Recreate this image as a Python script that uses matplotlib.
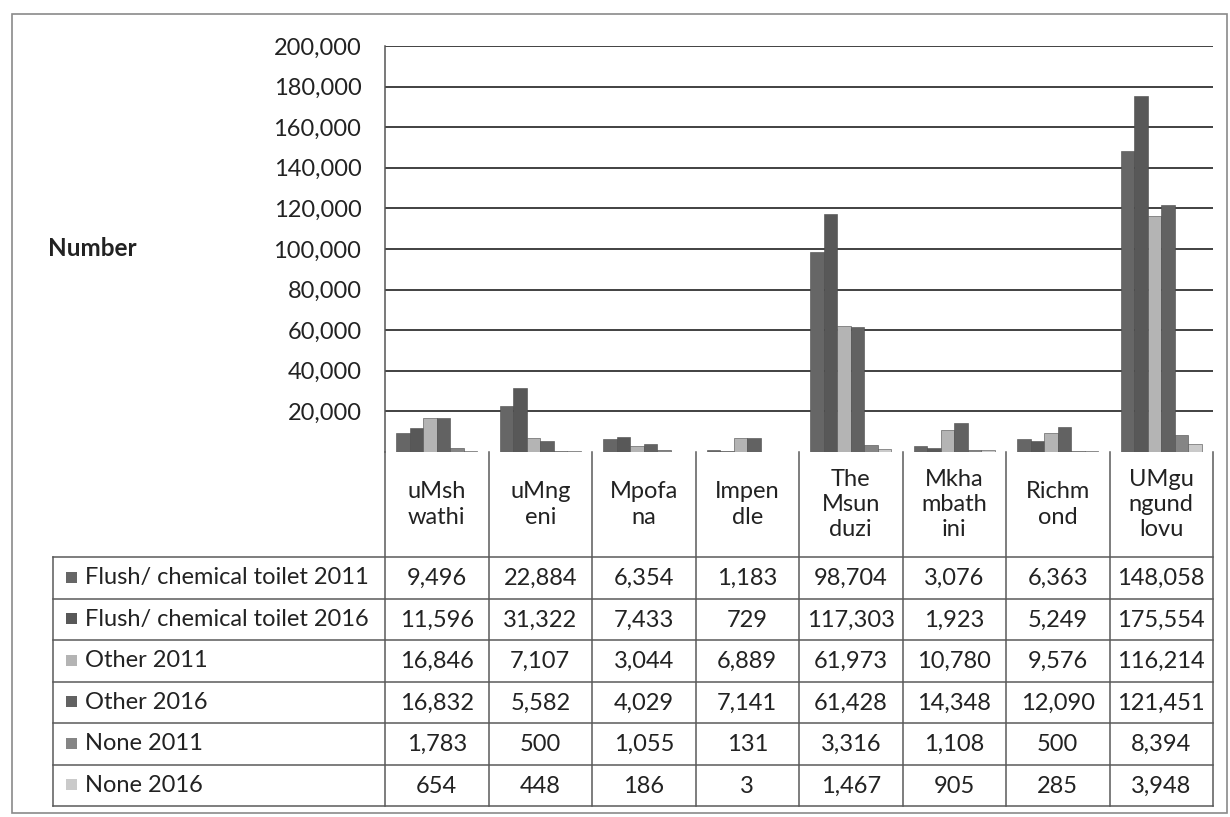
import matplotlib.pyplot as plt
from matplotlib.patches import Rectangle
from matplotlib.ticker import FuncFormatter

# -------------------------------
# Data
# -------------------------------
municipalities = ['uMsh\nwathi', 'uMng\neni', 'Mpofa\nna', 'Impen\ndle',
                  'The\nMsun\nduzi', 'Mkha\nmbath\nini', 'Richm\nond', 'UMgu\nngund\nlovu']
series_names = ['Flush/ chemical toilet 2011', 'Flush/ chemical toilet 2016',
                'Other 2011', 'Other 2016', 'None 2011', 'None 2016']

flush_2011 = [9496, 22884, 6354, 1183, 98704, 3076, 6363, 148058]
flush_2016 = [11596, 31322, 7433, 729, 117303, 1923, 5249, 175554]
other_2011 = [16846, 7107, 3044, 6889, 61973, 10780, 9576, 116214]
other_2016 = [16832, 5582, 4029, 7141, 61428, 14348, 12090, 121451]
none_2011 = [1783, 500, 1055, 131, 3316, 1108, 500, 8394]
none_2016 = [654, 448, 186, 3, 1467, 905, 285, 3948]
series_values = [flush_2011, flush_2016, other_2011, other_2016, none_2011, none_2016]

yticks = list(range(20000, 200001, 20000))

colors = ['#666666', '#585858', '#b4b4b4', '#626262', '#858585', '#cacaca']

plt.rcParams['font.family'] = ['Lato', 'DejaVu Sans']
text_col = '#222222'
fs = 17

W, H = 1230, 817
fig = plt.figure(figsize=(W / 100, H / 100), dpi=100)

# pixel layout
left, right = 385, 1213
top, base = 46, 452
row_top = 557
row_h = (806 - row_top) / 6
label_left = 53
col_w = (right - left) / len(municipalities)

# -------------------------------
# Bar chart
# -------------------------------
ax = fig.add_axes([left / W, 1 - base / H, (right - left) / W, (base - top) / H])
n = len(series_values)
bar_w = 0.13
start = 0.5 - n * bar_w / 2
for k, vals in enumerate(series_values):
    xs = [i + start + bar_w * (k + 0.5) for i in range(len(vals))]
    ax.bar(xs, vals, width=bar_w, color=colors[k], edgecolor='#4a4a4a',
           linewidth=0.4, zorder=3)

ax.set_xlim(0, len(municipalities))
ax.set_ylim(0, 200000)
ax.set_yticks(yticks)
ax.yaxis.set_major_formatter(FuncFormatter(lambda v, p: f'{int(v):,}'))
ax.tick_params(axis='y', length=0, pad=17, labelsize=fs, labelcolor=text_col)
ax.set_xticks([])
ax.grid(axis='y', color='#333333', linewidth=1.3, zorder=0)
for s in ['top', 'right', 'bottom']:
    ax.spines[s].set_visible(False)
ax.spines['left'].set_color('#555555')
ax.spines['left'].set_linewidth(1.1)

fig.text(48 / W, 1 - 249 / H, 'Number', fontsize=17.5, fontweight='bold',
         color=text_col, va='center', ha='left')

# -------------------------------
# Data table underneath
# -------------------------------
tab = fig.add_axes([0, 0, 1, 1])
tab.set_xlim(0, W)
tab.set_ylim(H, 0)
tab.axis('off')

line_kw = dict(color='#5a5a5a', linewidth=1.1)
bottom = row_top + row_h * n

# header cells (municipality names)
for i in range(len(municipalities) + 1):
    x = left + i * col_w
    tab.plot([x, x], [base, bottom], **line_kw)
for i, name in enumerate(municipalities):
    tab.text(left + (i + 0.5) * col_w, (base + row_top) / 2, name, ha='center',
             va='center', fontsize=fs, color=text_col, linespacing=1.25)

# row lines
tab.plot([label_left, label_left], [row_top, bottom], **line_kw)
for r in range(n + 1):
    y = row_top + r * row_h
    tab.plot([label_left, right], [y, y], **line_kw)

# series rows
for r, (name, vals) in enumerate(zip(series_names, series_values)):
    yc = row_top + (r + 0.5) * row_h
    tab.add_patch(Rectangle((66, yc - 6), 11, 11, facecolor=colors[r],
                            edgecolor='none'))
    tab.text(85, yc, name, ha='left', va='center', fontsize=fs, color=text_col)
    for i, v in enumerate(vals):
        tab.text(left + (i + 0.5) * col_w, yc + 1, f'{v:,}', ha='center',
                 va='center', fontsize=fs, color=text_col)

# outer chart border
tab.add_patch(Rectangle((12, 14), 1215, 799, fill=False, edgecolor='#8a8a8a',
                        linewidth=1.2))

fig.savefig('out.png', dpi=100)
